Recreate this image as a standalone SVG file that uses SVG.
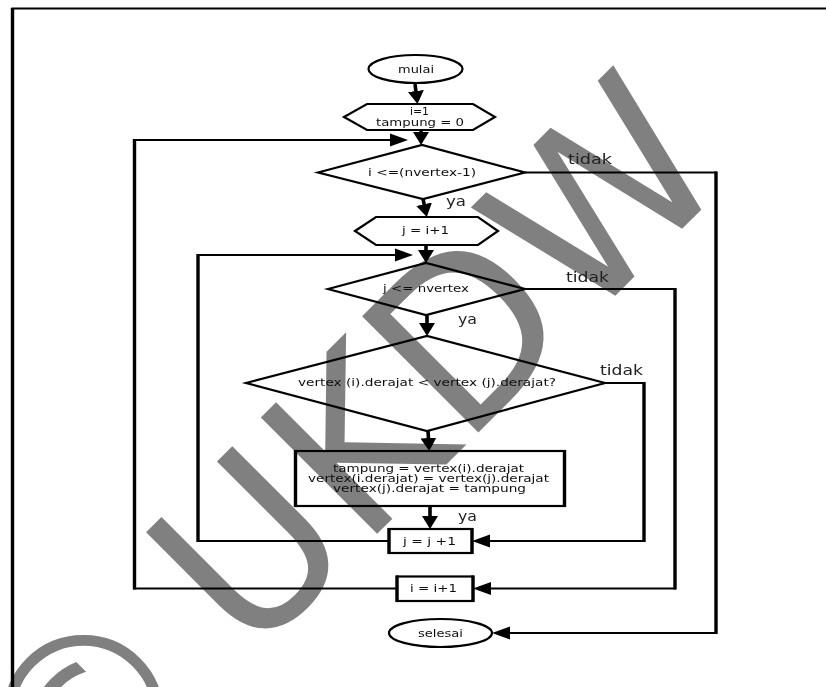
<svg xmlns="http://www.w3.org/2000/svg" width="826" height="687" viewBox="0 0 826 687">
  <style>
    text { font-family: "DejaVu Sans", "Liberation Sans", sans-serif; fill: #111; }
    .t { font-size: 10px; text-anchor: start; }
    .l { font-size: 13.500px; text-anchor: start; fill: #222; }
    .shape { fill: none; stroke: #000; stroke-width: 2.200; }
    .box { fill: none; stroke: #000; stroke-width: 2.200; }
    .side { fill: none; stroke: #000; stroke-width: 3.400; }
    .v { fill: none; stroke: #000; stroke-width: 3.600; }
    .loop { fill: none; stroke: #000; stroke-width: 2; stroke-linejoin: miter; }
    .wm { font-size: 205px; fill: #808080; }
  </style>
  <defs>
    <filter id="soft" x="0" y="0" width="826" height="687" filterUnits="userSpaceOnUse"><feGaussianBlur stdDeviation="0.45"/></filter>
    <marker id="ah" markerUnits="userSpaceOnUse" markerWidth="18" markerHeight="14" refX="14" refY="7" orient="auto"><path d="M0 0.5L18 7L0 13.5Z" fill="#000"/></marker>
    <marker id="av" markerUnits="userSpaceOnUse" markerWidth="13" markerHeight="18" refX="9" refY="9" orient="auto"><path d="M0 1L13 9L0 17Z" fill="#000"/></marker>
  </defs>
  <rect width="826" height="687" fill="#fff"/>
  <text class="wm" transform="translate(62 850) rotate(-45) scale(1.08)">©</text>
  <text class="wm" transform="translate(249 662) rotate(-45) scale(1.065 1.1)">UKDW</text>
  <g filter="url(#soft)">
    <path id="frame" d="M12.500 687V8.500H826" fill="none" stroke="#000" stroke-width="2.200"/>
    <path d="M12.500 8V687" class="side"/>
    <g id="connectors">
      <path class="v" d="M415 84L417 100" marker-end="url(#av)"/>
      <path class="v" d="M421 130V141" marker-end="url(#av)"/>
      <path class="v" d="M423 199L426 213" marker-end="url(#av)"/>
      <path class="v" d="M426 245V259" marker-end="url(#av)"/>
      <path class="v" d="M427 315V332" marker-end="url(#av)"/>
      <path class="v" d="M428 431L429 447" marker-end="url(#av)"/>
      <path class="v" d="M430 506V525" marker-end="url(#av)"/>
      <path class="loop" d="M396 588.500H134.500V140H404" marker-end="url(#ah)"/>
      <path class="loop" d="M388 541H198V255H409" marker-end="url(#ah)"/>
      <path class="loop" d="M525 172.500H716V633H496" marker-end="url(#ah)"/>
      <path class="loop" d="M525 289H675V588.500H477" marker-end="url(#ah)"/>
      <path class="loop" d="M605 383H644V541H476" marker-end="url(#ah)"/>
      <path class="side" d="M134.500 139V589.500M198 254V542M716 171.500V634M675 288V589.500M644 382V542"/>
    </g>
    <g id="n-mulai"><ellipse class="shape" cx="415.500" cy="69" rx="47" ry="14"/><text class="t" x="398" y="73" textLength="36" lengthAdjust="spacingAndGlyphs">mulai</text></g>
    <g id="n-init"><path class="shape" d="M344 117L367 104H473L495 117L473 130H367Z"/><text class="t" x="410" y="115" textLength="19" lengthAdjust="spacingAndGlyphs">i=1</text><text class="t" x="376" y="126" textLength="88" lengthAdjust="spacingAndGlyphs">tampung = 0</text></g>
    <g id="n-cond-i"><path class="shape" d="M318 172.500L422 145L525 172.500L423 199Z"/><text class="t" x="368" y="176" textLength="108" lengthAdjust="spacingAndGlyphs">i &lt;=(nvertex-1)</text></g>
    <g id="n-j-init"><path class="shape" d="M355 231L376 217H478L498 231L478 245H376Z"/><text class="t" x="402" y="234" textLength="47" lengthAdjust="spacingAndGlyphs">j = i+1</text></g>
    <g id="n-cond-j"><path class="shape" d="M328 289L426 263L525 289L426 315Z"/><text class="t" x="383" y="292" textLength="86" lengthAdjust="spacingAndGlyphs">j &lt;= nvertex</text></g>
    <g id="n-cond-derajat"><path class="shape" d="M246 383L427 336L605 383L427 431Z"/><text class="t" x="298" y="386" textLength="258" lengthAdjust="spacingAndGlyphs">vertex (i).derajat &lt; vertex (j).derajat?</text></g>
    <g id="n-swap"><rect class="box" x="295.500" y="451" width="269" height="55"/><path class="side" d="M295.500 450V507M564.500 450V507"/><text class="t" x="333" y="472" textLength="191" lengthAdjust="spacingAndGlyphs">tampung = vertex(i).derajat</text><text class="t" x="308" y="482" textLength="241" lengthAdjust="spacingAndGlyphs">vertex(i.derajat) = vertex(j).derajat</text><text class="t" x="333" y="492" textLength="193" lengthAdjust="spacingAndGlyphs">vertex(j).derajat = tampung</text></g>
    <g id="n-j-inc"><rect class="box" x="389" y="529" width="83" height="24"/><path class="side" d="M389 528V554M472 528V554"/><text class="t" x="403" y="545" textLength="53" lengthAdjust="spacingAndGlyphs">j = j +1</text></g>
    <g id="n-i-inc"><rect class="box" x="397" y="576.500" width="76" height="24.500"/><path class="side" d="M397 575.500V602M473 575.500V602"/><text class="t" x="410" y="592" textLength="47" lengthAdjust="spacingAndGlyphs">i = i+1</text></g>
    <g id="n-selesai"><ellipse class="shape" cx="440.500" cy="633" rx="51.500" ry="14"/><text class="t" x="418" y="637" textLength="45" lengthAdjust="spacingAndGlyphs">selesai</text></g>
    <g id="labels">
      <text class="l" x="568" y="164" textLength="44" lengthAdjust="spacingAndGlyphs">tidak</text>
      <text class="l" x="446" y="206" textLength="20" lengthAdjust="spacingAndGlyphs">ya</text>
      <text class="l" x="566" y="282" textLength="43" lengthAdjust="spacingAndGlyphs">tidak</text>
      <text class="l" x="458" y="324" textLength="19" lengthAdjust="spacingAndGlyphs">ya</text>
      <text class="l" x="600" y="375" textLength="43" lengthAdjust="spacingAndGlyphs">tidak</text>
      <text class="l" x="458" y="521" textLength="19" lengthAdjust="spacingAndGlyphs">ya</text>
    </g>
  </g>
</svg>
